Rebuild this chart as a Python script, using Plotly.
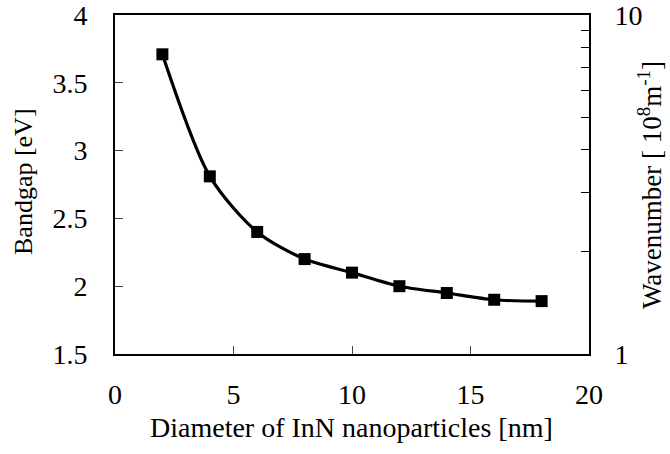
import plotly.graph_objects as go

diameter = [2, 4, 6, 8, 10, 12, 14, 16, 18]
bandgap = [3.71, 2.81, 2.40, 2.20, 2.10, 2.00, 1.95, 1.90, 1.89]
x_ticks = [0, 5, 10, 15, 20]
y_ticks = [1.5, 2, 2.5, 3, 3.5, 4]
y_ticklabels = ["1.5", "2", "2.5", "3", "3.5", "4"]
y2_major = [1, 10]
y2_major_labels = ["1", "10"]
y2_minor = [2, 3, 4, 5, 6, 7, 8, 9]

FONT = "Liberation Serif, serif"
TICKFONT = dict(family=FONT, size=28, color="black")

fig = go.Figure()
fig.add_trace(go.Scatter(
    x=diameter, y=bandgap, mode="lines+markers",
    line=dict(color="black", width=3.2, shape="spline", smoothing=0.8),
    marker=dict(symbol="square", size=12, color="black"),
    showlegend=False,
))
fig.add_trace(go.Scatter(x=[None], y=[None], yaxis="y2", showlegend=False, hoverinfo="skip"))

fig.update_layout(
    width=670, height=454,
    margin=dict(l=115, r=81, t=15, b=100, autoexpand=False),
    plot_bgcolor="white", paper_bgcolor="white",
    font=dict(family=FONT, size=26, color="black"),
    xaxis=dict(
        range=[0, 20], tickvals=x_ticks, ticks="inside", ticklen=8, tickwidth=1,
        showline=True, linecolor="black", linewidth=2, mirror=True,
        showgrid=False, zeroline=False, ticklabelstandoff=14, tickfont=TICKFONT,
        automargin=False, ticklabeloverflow="allow",
    ),
    yaxis=dict(
        range=[1.5, 4], tickvals=y_ticks, ticktext=y_ticklabels, ticks="inside",
        ticklen=8, tickwidth=1, showline=True, linecolor="black", linewidth=2,
        showgrid=False, zeroline=False, ticklabelstandoff=20, tickfont=TICKFONT,
        automargin=False, ticklabeloverflow="allow",
    ),
    yaxis2=dict(
        type="log", range=[0, 1], overlaying="y", side="right",
        tickvals=y2_major, ticktext=y2_major_labels, ticks="inside",
        ticklen=8, tickwidth=1, showline=True, linecolor="black", linewidth=2,
        showgrid=False, zeroline=False, ticklabelstandoff=18, tickfont=TICKFONT,
        minor=dict(tickvals=y2_minor, ticks="inside", ticklen=8, tickwidth=1,
                   tickcolor="black", showgrid=False),
        automargin=False, ticklabeloverflow="allow",
    ),
    annotations=[
        dict(text="Bandgap [eV]", xref="paper", yref="paper",
             x=(24 - 115) / 474, y=(354 - 182) / 339,
             textangle=-90, showarrow=False, font=dict(family=FONT, size=26),
             xanchor="center", yanchor="middle"),
        dict(text="Wavenumber [ 10<sup>8</sup>m<sup>-1</sup>]", xref="paper", yref="paper",
             x=(650 - 115) / 474, y=(354 - 185) / 339, textangle=-90, showarrow=False,
             font=dict(family=FONT, size=27), xanchor="center", yanchor="middle"),
        dict(text="Diameter of InN nanoparticles [nm]", xref="paper", yref="paper",
             x=(351 - 115) / 474, y=(354 - 427) / 339, showarrow=False,
             font=dict(family=FONT, size=28), xanchor="center", yanchor="middle"),
    ],
)

fig.write_html("out.html", post_script="document.body.style.margin='0px';",
               config={"displayModeBar": False})
